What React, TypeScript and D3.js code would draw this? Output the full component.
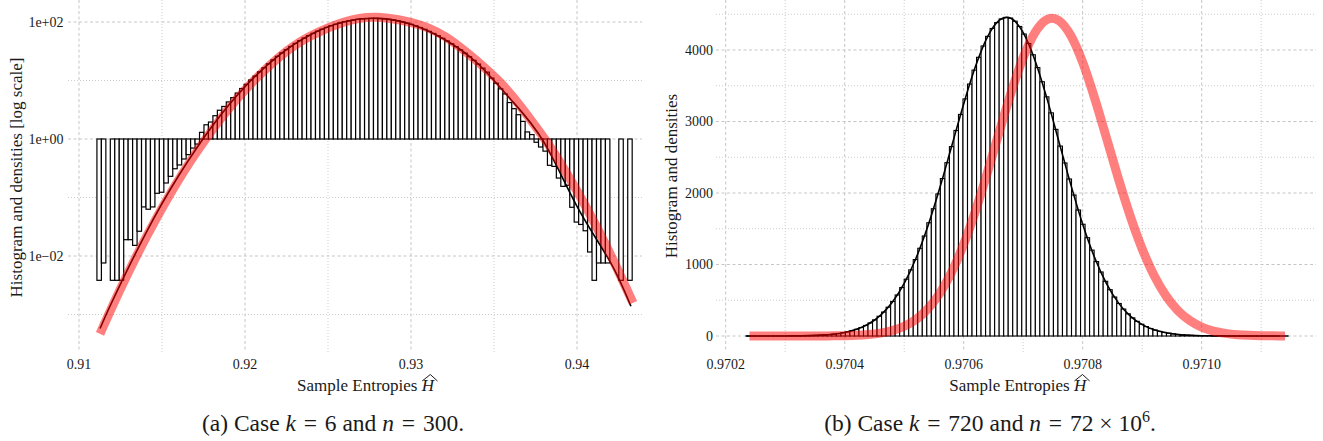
import { useLayoutEffect, useRef, useState } from "react";
import * as d3 from "d3";

const FONT = "'Liberation Serif', 'Times New Roman', Times, serif";
const INK = "#1a1a1a";

// ---- panel (a): case k = 6, n = 300 (log scale) ----
const histAStart = 0.91108;
const histABin = 0.0002687;
const histAValues = [
  0.00384, 0.0076, 0, 0.00384, 0.00384, 0.00384, 0.019, 0.019, 0.0152, 0.0265,
  0.069, 0.063, 0.069, 0.118, 0.123, 0.177, 0.23, 0.31, 0.36, 0.455,
  0.54, 0.7, 0.82, 1.3, 1.75, 1.95, 2.5, 3.1, 3.6, 4.3,
  5.1, 6.1, 7.3, 8.6, 10.2, 11.9, 14.1, 16.5, 19.3, 22.5,
  25.9, 29.7, 33.7, 38.2, 43.0, 47.9, 53.2, 58.6, 64.1, 69.8,
  75.5, 81.1, 86.5, 91.6, 96.6, 101, 105, 108.4, 111.2, 113.4,
  114.8, 115.6, 115.5, 114.8, 113.3, 111, 108, 104.7, 100.5, 96,
  91.2, 85.9, 80.5, 75.0, 69.2, 63.7, 58.1, 52.7, 47.5, 42.4,
  37.8, 33.3, 29.3, 25.5, 22.1, 19.1, 16.3, 13.9, 11, 9.0,
  7.2, 5.9, 4.2, 3.3, 2.6, 2.0, 1.32, 1.19, 0.88, 0.73,
  0.62, 0.355, 0.34, 0.215, 0.155, 0.162, 0.068, 0.038, 0.0346, 0.027,
  0.0117, 0.00384, 0.0076, 0.0076, 0.0076, 0, 0, 0.00384, 0, 0.00384,
];

const densAEntropy = [
  0.91127, 0.912, 0.914, 0.916, 0.918, 0.92, 0.922, 0.924, 0.926, 0.928,
  0.93, 0.932, 0.934, 0.936, 0.938, 0.94, 0.942, 0.94325,
];
const densAValue = [
  0.000575, 0.00167, 0.0237, 0.2355, 1.626, 7.83, 26.4, 61.8, 100.9, 115.3,
  91.6, 50.8, 19.7, 4.79, 0.891, 0.0708, 0.00794, 0.00138,
];

const refAEntropy = [
  0.911265, 0.91247, 0.913572, 0.914578, 0.915723, 0.916687, 0.91753, 0.918795,
  0.920301, 0.922108, 0.923916, 0.926024, 0.928012, 0.930542, 0.932651, 0.935181,
  0.936687, 0.938175, 0.939277, 0.940283, 0.941265, 0.942247, 0.943373,
];
const refAValue = [
  0.000468, 0.00263, 0.01148, 0.0398, 0.148, 0.407, 0.912, 2.754,
  8.51, 25.7, 57.0, 100.9, 120.2, 88.7, 43.2, 10.47,
  3.35, 0.891, 0.288, 0.0933, 0.0282, 0.00776, 0.00158,
];

const xTicksA = [0.91, 0.92, 0.93, 0.94];
const xMinorA = [0.915, 0.925, 0.935];
const yTicksA = [1e2, 1, 1e-2];
const yTickLabelsA = ["1e+02", "1e+00", "1e\u221202"];
const yMinorA = [1e1, 1e-1, 1e-3];

// ---- panel (b): case k = 720, n = 72e6 ----
const histBStart = 0.970234;
const histBBin = 0.0000076;
const histBValues = [
  0.05, 0.07, 0.1, 0.15, 0.22, 0.32, 0.46, 0.66, 0.93, 1.31,
  1.83, 2.54, 3.5, 4.8, 6.5, 8.8, 11.7, 15.6, 20.6, 27.0,
  35.1, 45.4, 58.3, 74.4, 94.2, 118, 148, 183, 226, 276,
  335, 403, 483, 574, 678, 795, 925, 1069, 1227, 1399,
  1584, 1780, 1987, 2202, 2424, 2649, 2875, 3099, 3316, 3524,
  3719, 3898, 4056, 4191, 4301, 4383, 4435, 4456, 4446, 4403,
  4329, 4223, 4091, 3933, 3754, 3556, 3345, 3121, 2890, 2656,
  2420, 2196, 1972, 1762, 1563, 1375, 1201, 1041, 895, 765,
  648, 545, 455, 377, 310, 254, 205, 165, 132, 105,
  82.6, 64.6, 50.1, 38.6, 29.6, 22.3, 16.8, 12.6, 9.3, 6.9,
  5.0, 3.6, 2.6, 1.9, 1.3, 0.94, 0.65, 0.45, 0.31, 0.21,
  0.14, 0.1, 0.06, 0.04, 0.03, 0.02, 0.01, 0.01, 0, 0,
];

const densBEntropy = [
  0.970234, 0.97026, 0.97028, 0.9703, 0.97032, 0.97034, 0.97036, 0.97038, 0.9704, 0.97042,
  0.97044, 0.97046, 0.97048, 0.9705, 0.97052, 0.97054, 0.97056, 0.97058, 0.9706, 0.97062,
  0.97064, 0.97066, 0.970672, 0.97068, 0.9707, 0.97072, 0.97074, 0.97076, 0.97078, 0.9708,
  0.97082, 0.97084, 0.97086, 0.97088, 0.9709, 0.97092, 0.97094, 0.97096, 0.97098, 0.971,
  0.97102, 0.97104, 0.97106, 0.97108, 0.9711, 0.971146,
];
const densBValue = [
  0, 0.15, 0.39, 1.0, 2.4, 5.5, 12, 25, 49.5, 93.6,
  168, 289, 472, 735, 1091, 1541, 2076, 2661, 3246, 3775,
  4184, 4417, 4457, 4440, 4242, 3851, 3320, 2719, 2117, 1562,
  1097, 731, 463, 278, 159, 86.6, 44.7, 21.9, 10.2, 4.5,
  1.9, 0.75, 0.28, 0.1, 0.03, 0,
];

const refBEntropy = [
  0.97024, 0.97026, 0.97028, 0.9703, 0.97032, 0.97034, 0.97036, 0.97038, 0.9704, 0.97042,
  0.97044, 0.97046, 0.97048, 0.9705, 0.97052, 0.97054, 0.97056, 0.97058, 0.9706, 0.97062,
  0.97064, 0.97066, 0.97068, 0.9707, 0.97072, 0.97074, 0.9707484, 0.97076, 0.97078, 0.9708,
  0.97082, 0.97084, 0.97086, 0.97088, 0.9709, 0.97092, 0.97094, 0.97096, 0.97098, 0.971,
  0.97102, 0.97104, 0.97106, 0.97108, 0.9711, 0.97112, 0.97114,
];
const refBValue = [
  0, 0, 0.02, 0.05, 0.14, 0.36, 0.89, 2.1, 4.7, 10.1,
  20.8, 40.7, 76.2, 136.6, 234, 383, 600, 898, 1284, 1755,
  2292, 2862, 3414, 3895, 4247, 4427, 4445, 4411, 4202, 3826,
  3328, 2770, 2201, 1675, 1217, 845, 561, 356, 216, 125,
  69, 36.6, 18.5, 9, 4.1, 1.8, 0.8,
];

const xTicksB = [0.9702, 0.9704, 0.9706, 0.9708, 0.971];
const xMinorB = [0.9703, 0.9705, 0.9707, 0.9709, 0.9711];
const yTicksB = [0, 1000, 2000, 3000, 4000];
const yMinorB = [500, 1500, 2500, 3500, 4500];

const xA = d3.scaleLinear().domain([0.91, 0.94]).range([79, 577]);
const yA = d3.scaleLog().domain([1e-2, 1e2]).range([256, 22]);
const xB = d3.scaleLinear().domain([0.9702, 0.971]).range([725.7, 1201.7]);
const yB = d3.scaleLinear().domain([0, 4000]).range([336, 50]);

const GRID_MAJOR = { stroke: "#c6c6c6", strokeWidth: 1, strokeDasharray: "3 2.5" };
const GRID_MINOR = { stroke: "#cdcdcd", strokeWidth: 1, strokeDasharray: "1 2" };

function EntropyTitle({ cx, y }: { cx: number; y: number }) {
  const ref = useRef<SVGTextElement | null>(null);
  const [hat, setHat] = useState<[number, number] | null>(null);

  useLayoutEffect(() => {
    const t = ref.current;
    if (!t) return;
    const n = t.getNumberOfChars();
    const a = t.getStartPositionOfChar(n - 1).x;
    const b = t.getEndPositionOfChar(n - 1).x;
    setHat([a, b]);
  }, [cx, y]);

  return (
    <g>
      <text ref={ref} x={cx} y={y} textAnchor="middle" fontSize={17} fill={INK}>
        Sample Entropies <tspan fontStyle="italic">H</tspan>
      </text>
      {hat && (
        <path
          d={`M${hat[0] + 0.5},${y - 10} L${(hat[0] + hat[1]) / 2 + 2.5},${y - 16.5} L${hat[1] + 3.5},${y - 10}`}
          fill="none"
          stroke={INK}
          strokeWidth={1}
        />
      )}
    </g>
  );
}

export default function App() {
  const lineA = d3
    .line<number>()
    .x((_, i) => xA(densAEntropy[i]))
    .y((d) => yA(d))
    .curve(d3.curveNatural);
  const refLineA = d3
    .line<number>()
    .x((_, i) => xA(refAEntropy[i]))
    .y((d) => yA(d))
    .curve(d3.curveNatural);
  const lineB = d3
    .line<number>()
    .x((_, i) => xB(densBEntropy[i]))
    .y((d) => yB(d))
    .curve(d3.curveMonotoneX);
  const refLineB = d3
    .line<number>()
    .x((_, i) => xB(refBEntropy[i]))
    .y((d) => yB(d))
    .curve(d3.curveMonotoneX);

  const eq = "\u2004=\u2004";

  return (
    <div style={{ position: "absolute", left: 0, top: 0 }}>
      <svg width={1323} height={441} fontFamily={FONT} style={{ display: "block", background: "#fff" }}>
        {/* ---------- panel (a) ---------- */}
        <g>
          {xMinorA.map((t) => (
            <line key={"amx" + t} x1={xA(t)} x2={xA(t)} y1={0} y2={352} {...GRID_MINOR} />
          ))}
          {xTicksA.map((t) => (
            <line key={"aMx" + t} x1={xA(t)} x2={xA(t)} y1={0} y2={352} {...GRID_MAJOR} />
          ))}
          {yMinorA.map((t) => (
            <line key={"amy" + t} x1={68} x2={642} y1={yA(t)} y2={yA(t)} {...GRID_MINOR} />
          ))}
          {yTicksA.map((t) => (
            <line key={"aMy" + t} x1={68} x2={642} y1={yA(t)} y2={yA(t)} {...GRID_MAJOR} />
          ))}

          {histAValues.map((v, i) => {
            if (v <= 0) return null;
            const x0 = xA(histAStart + i * histABin);
            const x1 = xA(histAStart + (i + 1) * histABin);
            const y0 = yA(1);
            const y1 = yA(v);
            return (
              <rect
                key={"ab" + i}
                x={x0}
                width={x1 - x0}
                y={Math.min(y0, y1)}
                height={Math.abs(y1 - y0)}
                fill="#fff"
                stroke="#000"
                strokeWidth={1.2}
              />
            );
          })}

          <path d={lineA(densAValue) ?? ""} fill="none" stroke="#000" strokeWidth={1.6} />
          <path d={refLineA(refAValue) ?? ""} fill="none" stroke="#ff0000" strokeOpacity={0.5} strokeWidth={9} />

          {yTicksA.map((t, i) => (
            <text key={"aly" + t} x={63.5} y={yA(t) + 4.8} textAnchor="end" fontSize={14} fill={INK}>
              {yTickLabelsA[i]}
            </text>
          ))}
          {xTicksA.map((t) => (
            <text key={"alx" + t} x={xA(t)} y={369} textAnchor="middle" fontSize={14} fill={INK}>
              {d3.format(".2f")(t)}
            </text>
          ))}
          <text transform="translate(21.5,177.5) rotate(-90)" textAnchor="middle" fontSize={17} fill={INK}>
            Histogram and densities [log scale]
          </text>
          <EntropyTitle cx={365.5} y={391} />
          <text x={333} y={431} textAnchor="middle" fontSize={23.5} fill={INK}>
            (a) Case <tspan fontStyle="italic">k</tspan>
            {eq + "6 and "}
            <tspan fontStyle="italic">n</tspan>
            {eq + "300."}
          </text>
        </g>

        {/* ---------- panel (b) ---------- */}
        <g>
          {xMinorB.map((t) => (
            <line key={"bmx" + t} x1={xB(t)} x2={xB(t)} y1={0} y2={352} {...GRID_MINOR} />
          ))}
          {xTicksB.map((t) => (
            <line key={"bMx" + t} x1={xB(t)} x2={xB(t)} y1={0} y2={352} {...GRID_MAJOR} />
          ))}
          {yMinorB.map((t) => (
            <line key={"bmy" + t} x1={716} x2={1316} y1={yB(t)} y2={yB(t)} {...GRID_MINOR} />
          ))}
          {yTicksB.map((t) => (
            <line key={"bMy" + t} x1={716} x2={1316} y1={yB(t)} y2={yB(t)} {...GRID_MAJOR} />
          ))}

          {histBValues.map((v, i) => {
            const x0 = xB(histBStart + i * histBBin);
            const x1 = xB(histBStart + (i + 1) * histBBin);
            return (
              <rect
                key={"bb" + i}
                x={x0}
                width={x1 - x0}
                y={yB(v)}
                height={yB(0) - yB(v)}
                fill="#fff"
                stroke="#000"
                strokeWidth={1.1}
              />
            );
          })}

          <path d={lineB(densBValue) ?? ""} fill="none" stroke="#000" strokeWidth={1.6} />
          <path d={refLineB(refBValue) ?? ""} fill="none" stroke="#ff0000" strokeOpacity={0.5} strokeWidth={9} />

          {yTicksB.map((t) => (
            <text key={"bly" + t} x={713} y={yB(t) + 4.8} textAnchor="end" fontSize={14} fill={INK}>
              {t}
            </text>
          ))}
          {xTicksB.map((t) => (
            <text key={"blx" + t} x={xB(t)} y={369} textAnchor="middle" fontSize={14} fill={INK}>
              {d3.format(".4f")(t)}
            </text>
          ))}
          <text transform="translate(677,176) rotate(-90)" textAnchor="middle" fontSize={17} fill={INK}>
            Histogram and densities
          </text>
          <EntropyTitle cx={1017.7} y={391} />
          <text x={990} y={431} textAnchor="middle" fontSize={23.5} fill={INK}>
            (b) Case <tspan fontStyle="italic">k</tspan>
            {eq + "720 and "}
            <tspan fontStyle="italic">n</tspan>
            {eq + "72 \u00d7 10"}
            <tspan dy={-9.5} fontSize={16}>6</tspan>
            <tspan dy={9.5}>.</tspan>
          </text>
        </g>
      </svg>
    </div>
  );
}
